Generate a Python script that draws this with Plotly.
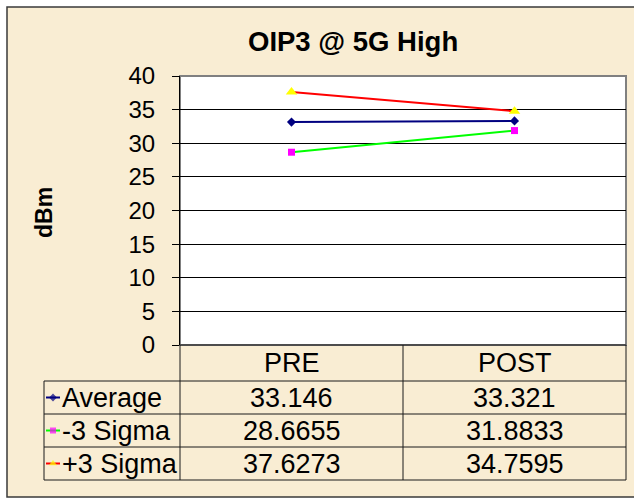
import plotly.graph_objects as go

# ---- data -------------------------------------------------------------
categories = ["PRE", "POST"]
series_names = ["Average", "-3 Sigma", "+3 Sigma"]
average = [33.146, 33.321]
minus_3_sigma = [28.6655, 31.8833]
plus_3_sigma = [37.6273, 34.7595]
y_ticks = [0, 5, 10, 15, 20, 25, 30, 35, 40]

series_values = [average, minus_3_sigma, plus_3_sigma]
line_colors = ["#000080", "#00FF00", "#FF0000"]
marker_colors = ["#000080", "#FF00FF", "#FFFF00"]
marker_symbols = ["diamond", "square", "triangle-up"]
marker_sizes = [7, 7, 10]

# ---- page geometry (pixels -> paper fractions) ------------------------
W, H = 634, 500
FONT = "Liberation Sans, Arial, sans-serif"


def px(x):
    return x / W


def py(y):
    return 1 - y / H


plot_left, plot_right, plot_top, plot_bottom = 180, 626, 76, 345
table_left = 44
col_mid = 403
row_lines = [381, 414, 447, 480]

fig = go.Figure()

# data series
for name, vals, lc, mc, ms, sz in zip(series_names, series_values, line_colors,
                                      marker_colors, marker_symbols, marker_sizes):
    fig.add_trace(go.Scatter(
        x=categories, y=vals, name=name, mode="lines+markers",
        line=dict(color=lc, width=2),
        marker=dict(color=mc, symbol=ms, size=sz, line=dict(width=0)),
        xaxis="x", yaxis="y", showlegend=False, hoverinfo="skip",
    ))

# legend keys inside the data table (drawn on a full-page pixel overlay)
for i, (lc, mc, ms, sz) in enumerate(zip(line_colors, marker_colors,
                                         marker_symbols, marker_sizes)):
    yc = (row_lines[i] + row_lines[i + 1]) / 2
    fig.add_trace(go.Scatter(
        x=[46, 53, 60], y=[yc, yc, yc], mode="lines+markers",
        line=dict(color=lc, width=2),
        marker=dict(color=mc, symbol=ms, size=[0, min(sz, 8) - 1, 0], line=dict(width=0)),
        xaxis="x2", yaxis="y2", showlegend=False, hoverinfo="skip",
    ))

shapes = []
# chart area background with border
shapes.append(dict(type="rect", xref="paper", yref="paper",
                   x0=px(7), x1=px(640), y0=py(497), y1=py(7),
                   fillcolor="#F9EDD3", line=dict(color="#3a3a3a", width=1.5),
                   layer="below"))
# white plot area with grey frame
shapes.append(dict(type="rect", xref="paper", yref="paper",
                   x0=px(plot_left), x1=px(plot_right), y0=py(plot_bottom), y1=py(plot_top),
                   fillcolor="white", line=dict(color="#808080", width=2),
                   layer="below"))

tbl = dict(color="#1a1a1a", width=1)
# horizontal table lines
shapes.append(dict(type="line", xref="paper", yref="paper",
                   x0=px(plot_left), x1=px(plot_right), y0=py(plot_bottom), y1=py(plot_bottom),
                   line=tbl))
for yl in row_lines:
    shapes.append(dict(type="line", xref="paper", yref="paper",
                       x0=px(table_left), x1=px(plot_right), y0=py(yl), y1=py(yl),
                       line=tbl))
# vertical table lines
shapes.append(dict(type="line", xref="paper", yref="paper",
                   x0=px(table_left), x1=px(table_left), y0=py(row_lines[0]), y1=py(row_lines[-1]),
                   line=tbl))
for xl in (plot_left, col_mid, plot_right):
    shapes.append(dict(type="line", xref="paper", yref="paper",
                       x0=px(xl), x1=px(xl), y0=py(plot_bottom), y1=py(row_lines[-1]),
                       line=tbl))

annotations = []
# title
annotations.append(dict(text="<b>OIP3 @ 5G High</b>", xref="paper", yref="paper",
                        x=px(353), y=py(42), xanchor="center", yanchor="middle",
                        showarrow=False, font=dict(family=FONT, size=27.5, color="black")))
# y-axis title
annotations.append(dict(text="<b>dBm</b>", xref="paper", yref="paper",
                        x=px(44), y=py(213), xanchor="center", yanchor="middle",
                        textangle=-90, showarrow=False,
                        font=dict(family=FONT, size=23, color="black")))

col_centers = [(plot_left + col_mid) / 2, (col_mid + plot_right) / 2]
TABLE_SIZE = 27
# column headers
for cat, xc in zip(categories, col_centers):
    annotations.append(dict(text=cat, xref="paper", yref="paper",
                            x=px(xc), y=py((plot_bottom + row_lines[0]) / 2),
                            xanchor="center", yanchor="middle", showarrow=False,
                            font=dict(family=FONT, size=TABLE_SIZE, color="black")))
# row labels and values
for i, (name, vals) in enumerate(zip(series_names, series_values)):
    yc = (row_lines[i] + row_lines[i + 1]) / 2
    annotations.append(dict(text=name, xref="paper", yref="paper",
                            x=px(60), y=py(yc), xanchor="left", yanchor="middle",
                            showarrow=False,
                            font=dict(family=FONT, size=TABLE_SIZE, color="black")))
    for v, xc in zip(vals, col_centers):
        annotations.append(dict(text=str(v), xref="paper", yref="paper",
                                x=px(xc), y=py(yc), xanchor="center", yanchor="middle",
                                showarrow=False,
                                font=dict(family=FONT, size=TABLE_SIZE, color="black")))

fig.update_layout(
    width=W, height=H,
    margin=dict(l=0, r=0, t=0, b=0, autoexpand=False),
    paper_bgcolor="white",
    plot_bgcolor="rgba(0,0,0,0)",
    font=dict(family=FONT, color="black"),
    xaxis=dict(domain=[px(plot_left), px(plot_right)], type="category",
               categoryorder="array", categoryarray=categories,
               range=[-0.5, 1.5], showticklabels=False, ticks="",
               showgrid=False, zeroline=False, showline=False, fixedrange=True,
               automargin=False),
    yaxis=dict(domain=[py(plot_bottom), py(plot_top)], range=[0, 40],
               tickvals=y_ticks, ticks="outside", ticklen=7, tickwidth=1,
               tickcolor="black", ticklabelstandoff=12,
               tickfont=dict(family=FONT, size=24, color="black"),
               showgrid=True, gridcolor="black", gridwidth=1,
               zeroline=False, showline=True, linecolor="black", linewidth=1,
               fixedrange=True, automargin=False),
    xaxis2=dict(domain=[0, 1], range=[0, W], visible=False, fixedrange=True,
                automargin=False),
    yaxis2=dict(domain=[0, 1], range=[H, 0], visible=False, fixedrange=True,
                anchor="x2", automargin=False),
    shapes=shapes,
    annotations=annotations,
    showlegend=False,
)

fig.write_html("out.html")
